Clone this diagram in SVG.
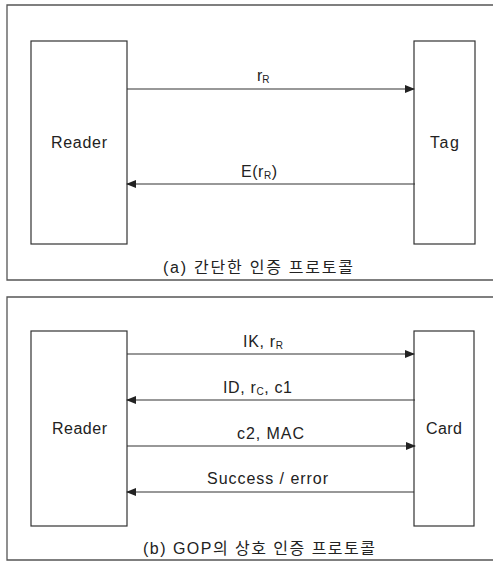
<svg xmlns="http://www.w3.org/2000/svg" width="493" height="561" viewBox="0 0 493 561">
<style>
.frame{fill:none;stroke:#555;stroke-width:1.3}
.box{fill:#fff;stroke:#333;stroke-width:1.2}
.conn{stroke:#333;stroke-width:1.2;fill:none}
text{font-family:"Liberation Sans","Noto Sans CJK KR",sans-serif;font-size:16px;fill:#222}
.sub{font-size:10px}
.cap{font-size:16px}
</style>
<defs>
<marker id="ah" markerWidth="10" markerHeight="8" refX="9" refY="4" orient="auto" markerUnits="userSpaceOnUse">
<path d="M0,0 L10,4 L0,8 Z" fill="#222"/>
</marker>
</defs>
<rect width="493" height="561" fill="#fff"/>
<g id="frame-a"><path class="frame" d="M500,5 H7 V280 H500"/></g>
<g id="frame-b"><path class="frame" d="M500,297 H7 V560 H500"/></g>
<g id="reader-a"><rect class="box" x="31" y="41" width="96" height="203"/><text x="79" y="148" text-anchor="middle" textLength="56" lengthAdjust="spacing">Reader</text></g>
<g id="tag"><rect class="box" x="414" y="41" width="61" height="203"/><text x="444.5" y="148" text-anchor="middle" textLength="29" lengthAdjust="spacing">Tag</text></g>
<g id="reader-b"><rect class="box" x="31" y="331" width="96" height="195"/><text x="79.5" y="434" text-anchor="middle" textLength="55" lengthAdjust="spacing">Reader</text></g>
<g id="card"><rect class="box" x="414" y="331" width="60" height="195"/><text x="444" y="434" text-anchor="middle" textLength="36" lengthAdjust="spacing">Card</text></g>
<g id="connectors">
<line class="conn" x1="127" y1="89" x2="414" y2="89" marker-end="url(#ah)"/>
<line class="conn" x1="415" y1="184" x2="127" y2="184" marker-end="url(#ah)"/>
<line class="conn" x1="127" y1="354" x2="414" y2="354" marker-end="url(#ah)"/>
<line class="conn" x1="415" y1="400" x2="127" y2="400" marker-end="url(#ah)"/>
<line class="conn" x1="127" y1="446" x2="415" y2="446" marker-end="url(#ah)"/>
<line class="conn" x1="414" y1="492" x2="127" y2="492" marker-end="url(#ah)"/>
</g>
<g id="labels">
<text x="257" y="81">r<tspan class="sub" dy="2">R</tspan></text>
<text x="241" y="177" textLength="36" lengthAdjust="spacing">E(r<tspan class="sub" dy="2">R</tspan><tspan dy="-2">)</tspan></text>
<text x="243" y="347" textLength="40" lengthAdjust="spacing">IK, r<tspan class="sub" dy="2">R</tspan></text>
<text x="223" y="393" textLength="69" lengthAdjust="spacing">ID, r<tspan class="sub" dy="2">C</tspan><tspan dy="-2">, c1</tspan></text>
<text x="270.5" y="439" text-anchor="middle" textLength="67" lengthAdjust="spacing">c2, MAC</text>
<text x="267.5" y="484" text-anchor="middle" textLength="121" lengthAdjust="spacing">Success / error</text>
<text class="cap" x="258" y="273" text-anchor="middle" textLength="190" lengthAdjust="spacing">(a) 간단한 인증 프로토콜</text>
<text class="cap" x="259" y="554" text-anchor="middle" textLength="232" lengthAdjust="spacing">(b) GOP의 상호 인증 프로토콜</text>
</g>
</svg>
